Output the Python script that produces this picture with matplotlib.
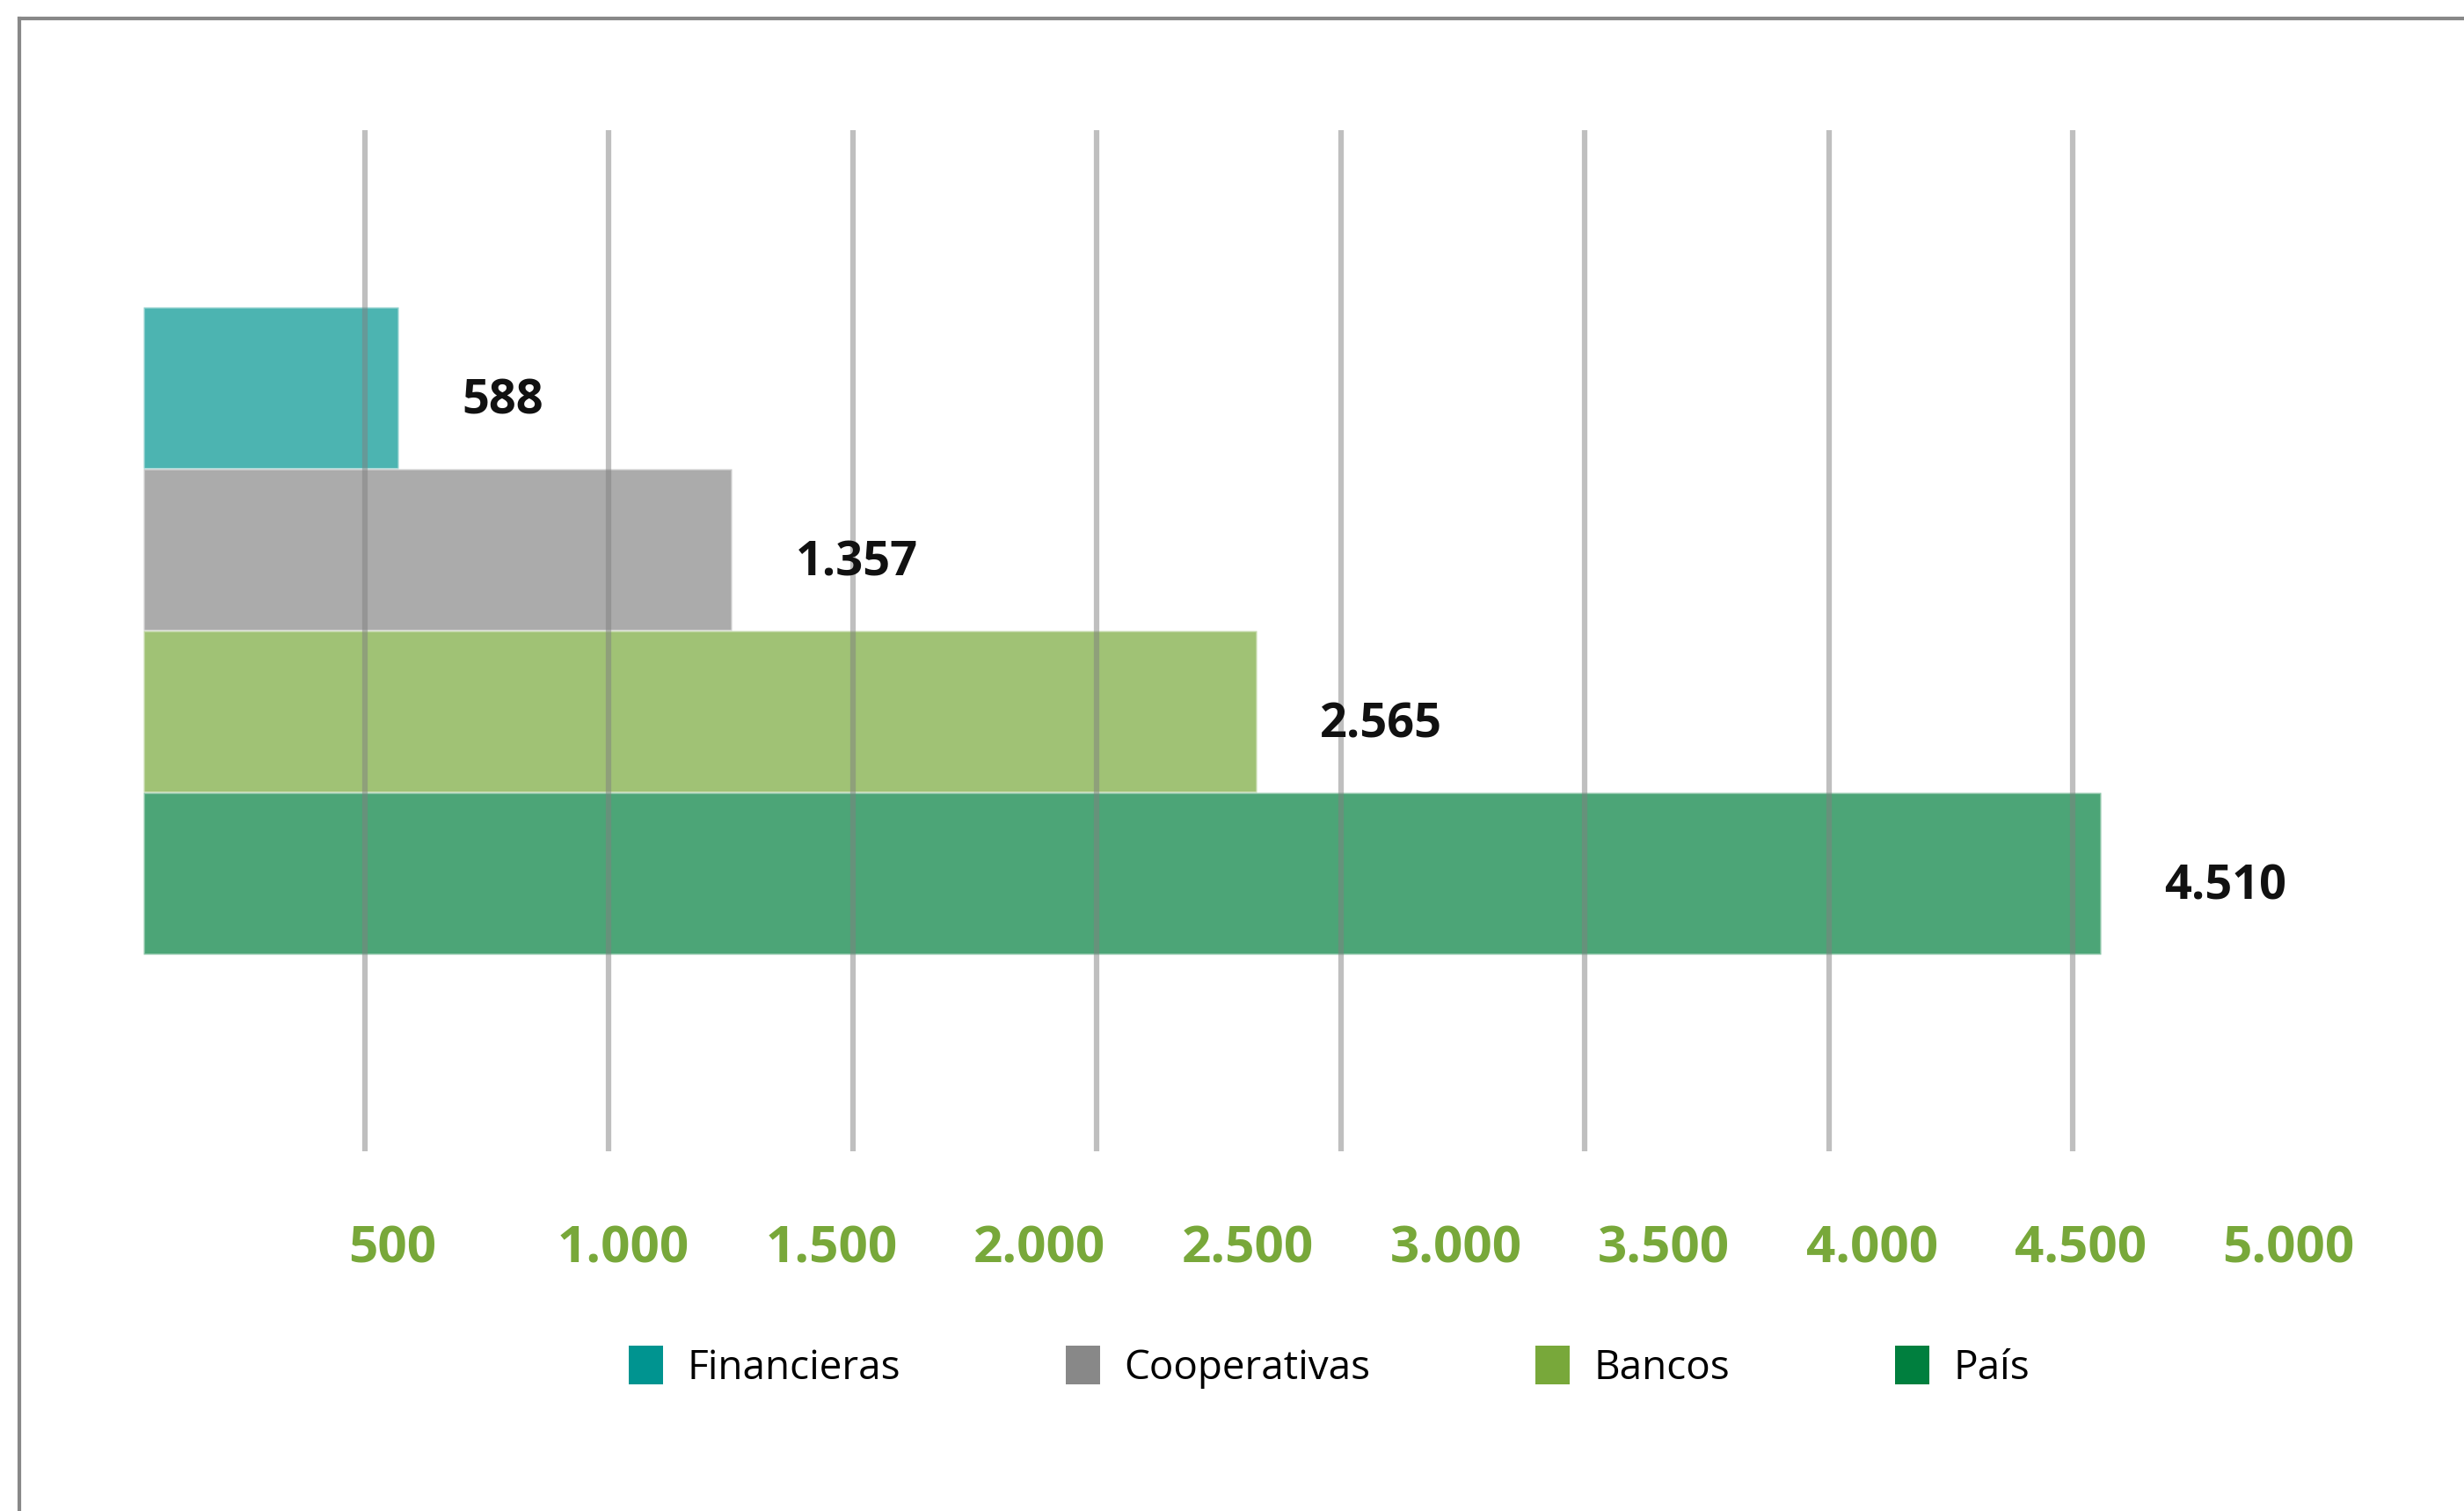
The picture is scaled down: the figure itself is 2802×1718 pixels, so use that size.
import matplotlib.pyplot as plt
from matplotlib.patches import Patch
from matplotlib.lines import Line2D
from matplotlib.colors import to_rgba
from matplotlib.transforms import blended_transform_factory

plt.rcParams['font.family'] = ['Open Sans', 'DejaVu Sans']

# data
categories = ['Financieras', 'Cooperativas', 'Bancos', 'País']
values = [588, 1357, 2565, 4510]
colors = ['#009490', '#888888', '#78a83a', '#007f3e']
grid_vals = [500, 1000, 1500, 2000, 2500, 3000, 3500, 4000]
tick_vals = [500, 1000, 1500, 2000, 2500, 3000, 3500, 4000, 4500, 5000]


def fmt(v):
    return f'{v:,}'.replace(',', '.')


fig = plt.figure(figsize=(28.02, 17.18), dpi=100)
pos = [0.058, 0.2383, 0.8986, 0.6753]

# helper axes: tick labels scale and grid scale (the original chart is not aligned)
ax_lab = fig.add_axes(pos, zorder=0)
ax_lab.set_xlim(5.7, 5322.6)
ax_lab.set_xticks(tick_vals)
ax_lab.set_xticklabels([fmt(v) for v in tick_vals], color='#78a83a',
                       fontsize=42, fontweight='bold', ha='left')
ax_lab.tick_params(axis='x', length=0, pad=60)
ax_lab.set_yticks([])
for s in ax_lab.spines.values():
    s.set_visible(False)
ax_lab.patch.set_visible(False)

ax_grid = fig.add_axes(pos, zorder=0)
ax_grid.set_xlim(46, 4582)
ax_grid.set_axis_off()

ax = fig.add_axes(pos, zorder=1)
ax.patch.set_visible(False)
y = list(range(len(categories)))
ax.barh(y, values, height=1.0,
        color=[to_rgba(c, 0.7) for c in colors],
        edgecolor=(1, 1, 1, 0.35), linewidth=2, zorder=2)
trans = blended_transform_factory(ax_grid.transData, ax.transAxes)
ax.vlines(grid_vals, 0, 1, transform=trans, color='#808080', alpha=0.5,
          linewidth=4.5, zorder=3)
for yi, v in zip(y, values):
    ax.annotate(fmt(v), xy=(v, yi), xytext=(52, -11), textcoords='offset points',
                ha='left', va='center', fontsize=39, fontweight='bold',
                color='#111111', zorder=4)
ax.set_xlim(0, 5100)
ax.set_ylim(4.718, -1.592)
ax.set_axis_off()

handles = [Patch(facecolor=c, edgecolor='none') for c in colors]
fig.legend(handles, categories, loc='center', bbox_to_anchor=(0.5395, 0.095),
           ncol=4, frameon=False, fontsize=33, handlelength=0.85,
           handleheight=1.1, handletextpad=0.6, columnspacing=4.1)

# outer frame lines
fig.add_artist(Line2D([0.0077, 1.0], [0.9875, 0.9875], transform=fig.transFigure,
                      color='#888888', linewidth=3))
fig.add_artist(Line2D([0.0077, 0.0077], [0.0, 0.9875], transform=fig.transFigure,
                      color='#888888', linewidth=3))

fig.savefig('out.png', dpi=100, facecolor='white')
